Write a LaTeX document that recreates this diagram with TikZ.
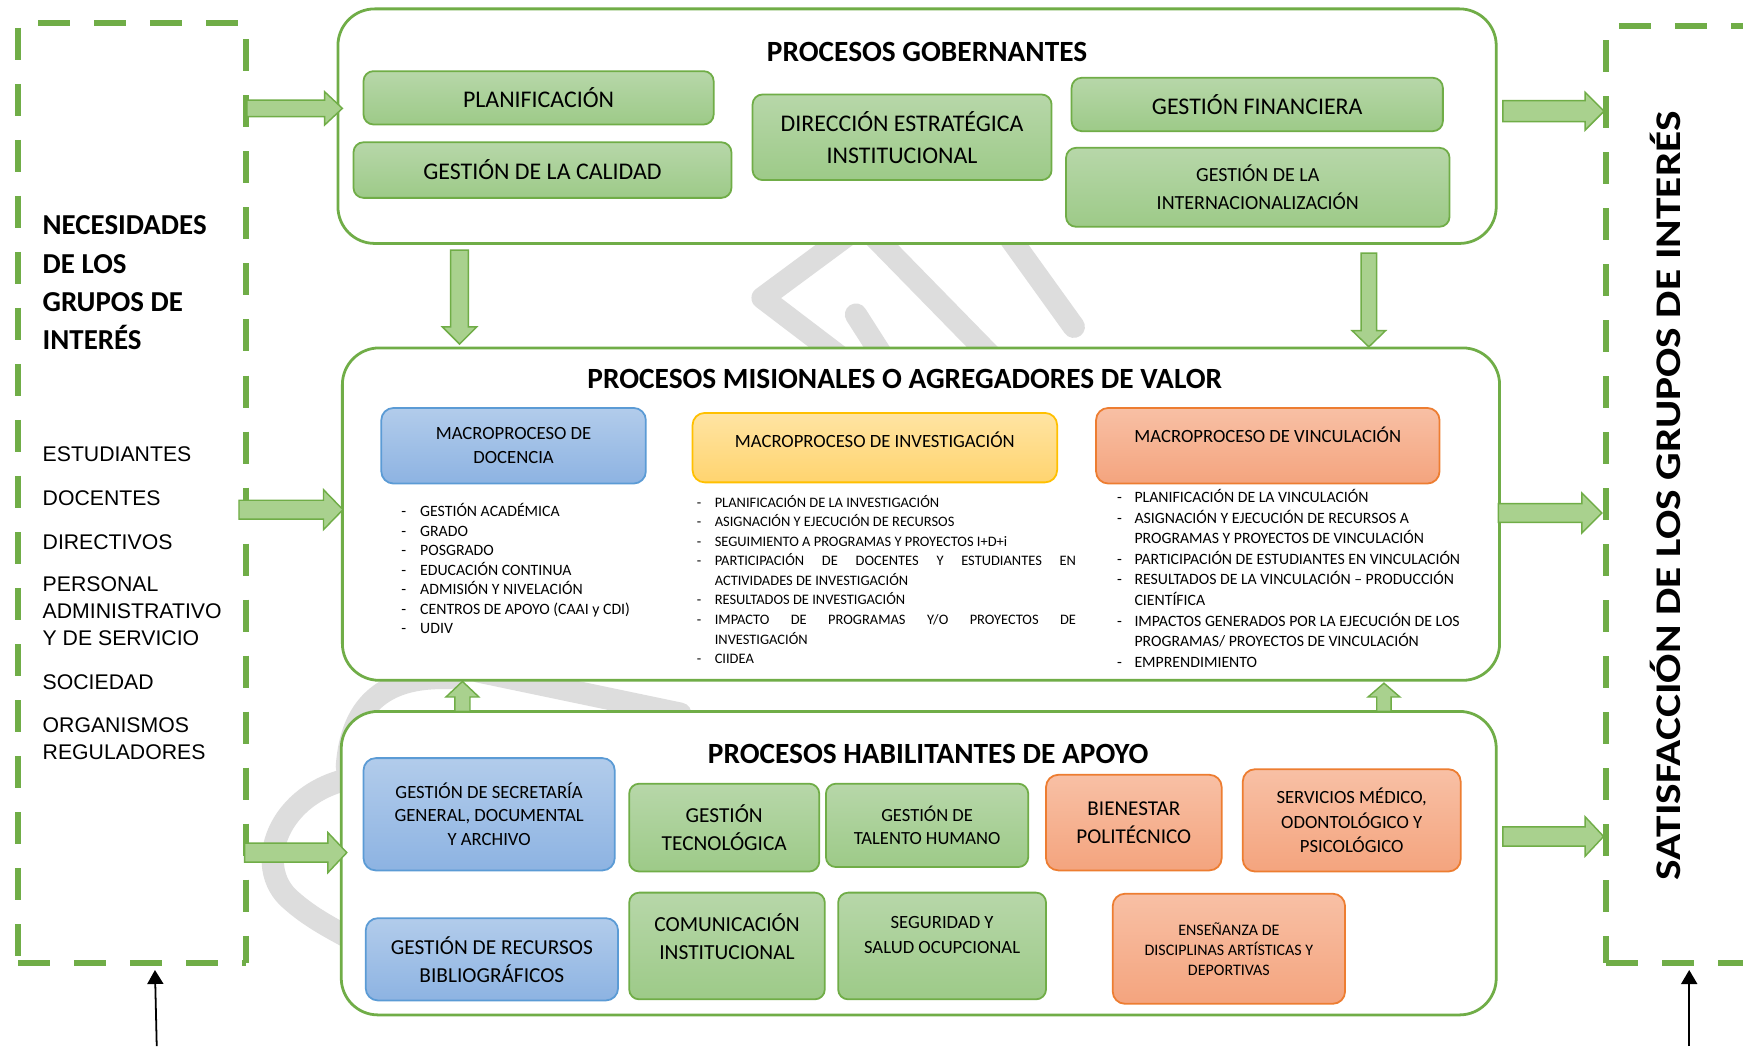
\documentclass[tikz,border=0pt]{standalone}
\usepackage{fontspec}
\usepackage{graphicx}
\setmainfont{Carlito}
\newfontfamily\arialf{Liberation Sans}
\usetikzlibrary{arrows.meta,calc}
\definecolor{gB}{HTML}{70AD47}
\definecolor{gTop}{HTML}{B7D7A9}
\definecolor{gBot}{HTML}{9DCA88}
\definecolor{bB}{HTML}{5B9BD5}
\definecolor{bTop}{HTML}{B2CCEB}
\definecolor{bBot}{HTML}{8DB3E2}
\definecolor{oB}{HTML}{ED7D31}
\definecolor{oTop}{HTML}{F8C0A5}
\definecolor{oBot}{HTML}{F4A47E}
\definecolor{yB}{HTML}{FFC000}
\definecolor{yTop}{HTML}{FFE4A3}
\definecolor{yBot}{HTML}{FFD46F}
\definecolor{aFill}{HTML}{A9D18E}
\definecolor{wmk}{HTML}{DDDDDD}
\newlength{\mydashw}
\newcommand{\setfs}[2]{\fontsize{#1}{#2}\selectfont}
\newcommand{\myitem}[1]{\makebox[\mydashw][l]{-}#1\par}
\newcommand{\mycont}[1]{\hspace*{\mydashw}#1\par}
% block arrow: tail, tip, dx, dy, shaft half width, head half width, head length
\newcommand{\blockarrow}[7]{%
\draw[blockarr] ($(#1)+({-1*(#4)*(#5)},{(#3)*(#5)})$)
 -- ($(#2)+({-1*(#3)*(#7)-(#4)*(#5)},{-1*(#4)*(#7)+(#3)*(#5)})$)
 -- ($(#2)+({-1*(#3)*(#7)-(#4)*(#6)},{-1*(#4)*(#7)+(#3)*(#6)})$)
 -- (#2)
 -- ($(#2)+({-1*(#3)*(#7)+(#4)*(#6)},{-1*(#4)*(#7)-(#3)*(#6)})$)
 -- ($(#2)+({-1*(#3)*(#7)+(#4)*(#5)},{-1*(#4)*(#7)-(#3)*(#5)})$)
 -- ($(#1)+({(#4)*(#5)},{-1*(#3)*(#5)})$) -- cycle;}
\begin{document}
\begin{tikzpicture}[x=1pt,y=-1pt,
  every node/.style={inner sep=0pt, outer sep=0pt},
  cont/.style={draw=gB, line width=2.5pt, rounded corners=33pt, fill=white},
  gbox/.style={draw=gB, line width=1.6pt, rounded corners=9pt, top color=gTop, bottom color=gBot, align=center},
  bbox/.style={draw=bB, line width=1.6pt, rounded corners=11pt, top color=bTop, bottom color=bBot, align=center},
  obox/.style={draw=oB, line width=1.6pt, rounded corners=11pt, top color=oTop, bottom color=oBot, align=center},
  ybox/.style={draw=yB, line width=1.6pt, rounded corners=11pt, top color=yTop, bottom color=yBot, align=center},
  dashline/.style={draw=gB, line width=5.5pt, dash pattern=on 28.8pt off 21.6pt},
  blockarr/.style={draw=gB, line width=1.3pt, fill=aFill, line join=miter},
  blackarr/.style={draw=black, line width=1.6pt, -{Triangle[width=14.4pt,length=12.6pt]}},
  titlef/.style={font=\bfseries\setfs{26.4}{30}},
  boxt/.style={align=center},
  wmark/.style={draw=wmk, line width=20pt, line cap=round, line join=round}
]
\useasboundingbox[fill=white] (0,0) rectangle (1568,941);

% ---------- watermark fragments (behind the containers) ----------
\draw[wmark] (778,200) -- (686,268) -- (778,338);
\draw[wmark] (772,198) -- (905,334);
\draw[wmark] (770,283) -- (800,330);
\draw[wmark] (897,198) -- (966,294);
\draw[wmark] (312,690) .. controls (316,630) and (350,608) .. (405,610);
\draw[wmark] (430,604) -- (612,642);
\draw[wmark] (318,700) .. controls (250,712) and (226,780) .. (262,810) .. controls (280,826) and (300,836) .. (322,848);

% ---------- left dashed region ----------
\node[minimum width=204.6pt, minimum height=845pt] (needs) at (118.7,443.5) {};
\draw[dashline] ($(needs.north west)+(17.8,0)$) -- (needs.north east);
\draw[dashline] ($(needs.north west)+(0,4)$) -- (needs.south west);
\draw[dashline] ($(needs.north east)+(0,14.4)$) -- (needs.south east);
\draw[dashline] (needs.south west) -- (needs.south east);

\node[anchor=base west] (needt) at (38.4,211.4)
  {\parbox[t]{200pt}{\bfseries\setfs{26}{34.2}NECESIDADES\\DE LOS\\GRUPOS DE\\INTERÉS}};
\node[anchor=base west] (g1) at (38.4,415.6) {\arialf\setfs{19.1}{24.3}ESTUDIANTES};
\node[anchor=base west] (g2) at (38.4,454.5) {\arialf\setfs{19.1}{24.3}DOCENTES};
\node[anchor=base west] (g3) at (38.4,494) {\arialf\setfs{19.1}{24.3}DIRECTIVOS};
\node[anchor=base west] (g4) at (38.4,532)
  {\parbox[t]{200pt}{\arialf\setfs{19.1}{24.3}PERSONAL\\ADMINISTRATIVO\\Y DE SERVICIO}};
\node[anchor=base west] (g5) at (38.4,620) {\arialf\setfs{19.1}{24.3}SOCIEDAD};
\node[anchor=base west] (g6) at (38.4,658.6)
  {\parbox[t]{200pt}{\arialf\setfs{19.1}{24.4}ORGANISMOS\\REGULADORES}};

% ---------- right dashed region ----------
\node[minimum width=155pt, minimum height=842.6pt] (satis) at (1522.5,444.7) {};
\draw[dashline] ($(satis.north west)+(11.4,0)$) -- (satis.north east);
\draw[dashline] ($(satis.north west)+(0,12.6)$) -- (satis.south west);
\draw[dashline] (satis.south west) -- (satis.south east);
\node[rotate=90, anchor=base] (satist) at (1512,446)
  {\scalebox{1.2}[1]{\bfseries\setfs{32.5}{36}SATISFACCIÓN DE LOS GRUPOS DE INTERÉS}};

% ---------- containers ----------
\node[cont, minimum width=1042pt, minimum height=211pt] (gob) at (825,113.5) {};
\node[cont, minimum width=1041pt, minimum height=299pt] (mis) at (828.5,462.5) {};
\node[cont, minimum width=1039pt, minimum height=273pt] (apo) at (826.5,776.5) {};

% ---------- procesos gobernantes ----------
\node[titlef] (gobt) at (834,47) {PROCESOS GOBERNANTES};
\node[gbox, minimum width=315pt, minimum height=48pt, font=\setfs{21.5}{29}] (plan) at (484.5,88) {PLANIFICACIÓN};
\node[gbox, minimum width=340pt, minimum height=50pt, font=\setfs{21.5}{29}] (cal) at (488,153) {GESTIÓN DE LA CALIDAD};
\node[gbox, minimum width=269pt, minimum height=77pt, font=\setfs{21.5}{29}] (dir) at (811.5,123.5) {DIRECCIÓN ESTRATÉGICA\\INSTITUCIONAL};
\node[gbox, minimum width=334pt, minimum height=48pt, font=\setfs{21.5}{29}] (fin) at (1131,94) {GESTIÓN FINANCIERA};
\node[gbox, minimum width=345pt, minimum height=71pt, font=\setfs{18}{25}] (int) at (1131.5,168.5) {GESTIÓN DE LA\\INTERNACIONALIZACIÓN};

% ---------- procesos misionales ----------
\node[titlef] (mist) at (814,341) {PROCESOS MISIONALES O AGREGADORES DE VALOR};
\node[bbox, minimum width=238pt, minimum height=68pt, font=\setfs{16.8}{22}] (doc) at (462,401) {MACROPROCESO DE\\DOCENCIA};
\node[ybox, minimum width=328pt, minimum height=62.5pt] (inv) at (787,402.7) {};
\node[boxt, font=\setfs{16.8}{22}] (invt) at (787,396) {MACROPROCESO DE INVESTIGACIÓN};
\node[obox, minimum width=309pt, minimum height=68pt] (vin) at (1140.5,401) {};
\node[boxt, font=\setfs{16.8}{22}] (vint) at (1140.5,391.5) {MACROPROCESO DE VINCULACIÓN};

\node[anchor=base west] (docl) at (361,464.8) {\parbox[t]{300pt}{\setfs{14.2}{17.55}\setlength{\mydashw}{17pt}%
\myitem{GESTIÓN ACADÉMICA}\myitem{GRADO}\myitem{POSGRADO}\myitem{EDUCACIÓN CONTINUA}%
\myitem{ADMISIÓN Y NIVELACIÓN}\myitem{CENTROS DE APOYO (CAAI y CDI)}\myitem{UDIV}}};

\node[anchor=base west] (invl) at (627,456.2) {\parbox[t]{400pt}{\setfs{13}{17.6}\setlength{\mydashw}{16pt}%
\myitem{PLANIFICACIÓN DE LA INVESTIGACIÓN}%
\myitem{ASIGNACIÓN Y EJECUCIÓN DE RECURSOS}%
\myitem{SEGUIMIENTO A PROGRAMAS Y PROYECTOS I+D+i}%
\myitem{\makebox[325pt][s]{PARTICIPACIÓN DE DOCENTES Y ESTUDIANTES EN}}%
\mycont{ACTIVIDADES DE INVESTIGACIÓN}%
\myitem{RESULTADOS DE INVESTIGACIÓN}%
\myitem{\makebox[325pt][s]{IMPACTO DE PROGRAMAS Y/O PROYECTOS DE}}%
\mycont{INVESTIGACIÓN}%
\myitem{CIIDEA}}};

\node[anchor=base west] (vinl) at (1005,452.2) {\parbox[t]{400pt}{\setfs{14.2}{18.5}\setlength{\mydashw}{15.6pt}%
\myitem{PLANIFICACIÓN DE LA VINCULACIÓN}%
\myitem{ASIGNACIÓN Y EJECUCIÓN DE RECURSOS A}%
\mycont{PROGRAMAS Y PROYECTOS DE VINCULACIÓN}%
\myitem{PARTICIPACIÓN DE ESTUDIANTES EN VINCULACIÓN}%
\myitem{RESULTADOS DE LA VINCULACIÓN – PRODUCCIÓN}%
\mycont{CIENTÍFICA}%
\myitem{IMPACTOS GENERADOS POR LA EJECUCIÓN DE LOS}%
\mycont{PROGRAMAS/ PROYECTOS DE VINCULACIÓN}%
\myitem{EMPRENDIMIENTO}}};

% ---------- procesos habilitantes ----------
\node[titlef] (apot) at (835,678) {PROCESOS HABILITANTES DE APOYO};
\node[bbox, minimum width=226pt, minimum height=101pt, font=\setfs{16.8}{21.5}] (sec) at (440,732.5) {GESTIÓN DE SECRETARÍA\\GENERAL, DOCUMENTAL\\Y ARCHIVO};
\node[gbox, minimum width=171pt, minimum height=79pt, font=\setfs{19.2}{25}] (tec) at (651.5,744.5) {GESTIÓN\\TECNOLÓGICA};
\node[gbox, minimum width=182pt, minimum height=75pt, font=\setfs{16.7}{21}] (tal) at (834,742.5) {GESTIÓN DE\\TALENTO HUMANO};
\node[obox, minimum width=158pt, minimum height=86pt, font=\setfs{19}{25}] (bie) at (1020,740) {BIENESTAR\\POLITÉCNICO};
\node[obox, minimum width=196pt, minimum height=92pt, font=\setfs{16.8}{22}] (ser) at (1216,738) {SERVICIOS MÉDICO,\\ODONTOLÓGICO Y\\PSICOLÓGICO};
\node[bbox, minimum width=227pt, minimum height=74pt, font=\setfs{19.2}{25}] (rec) at (442.5,863) {GESTIÓN DE RECURSOS\\BIBLIOGRÁFICOS};
\node[gbox, minimum width=176pt, minimum height=96pt] (com) at (654,851) {};
\node[boxt, font=\setfs{19.3}{25}] (comt) at (654,842.5) {COMUNICACIÓN\\INSTITUCIONAL};
\node[gbox, minimum width=187pt, minimum height=96pt] (seg) at (847.5,851) {};
\node[boxt, font=\setfs{16.8}{22}] (segt) at (847.5,841) {SEGURIDAD Y\\SALUD OCUPCIONAL};
\node[obox, minimum width=209pt, minimum height=99pt, font=\setfs{14.4}{18}] (ens) at (1105.5,853.5) {ENSEÑANZA DE\\DISCIPLINAS ARTÍSTICAS Y\\DEPORTIVAS};

% ---------- block arrows ----------
\coordinate (a1s) at (222,97.5);   \coordinate (a1e) at (308,97.5);
\coordinate (a2s) at (215,458.5);  \coordinate (a2e) at (308.5,458.5);
\coordinate (a3s) at (220,767);    \coordinate (a3e) at (312,767);
\coordinate (a4s) at (1352,100);   \coordinate (a4e) at (1443,100);
\coordinate (a5s) at (1348,461.5); \coordinate (a5e) at (1441,461.5);
\coordinate (a6s) at (1352,752.5); \coordinate (a6e) at (1442.6,752.5);
\coordinate (d1s) at (413.4,225);  \coordinate (d1e) at (413.4,309.5);
\coordinate (d2s) at (1231.4,227.7); \coordinate (d2e) at (1231.4,312);
\coordinate (u1s) at (416,640);    \coordinate (u1e) at (416,613);
\coordinate (u2s) at (1245,640);   \coordinate (u2e) at (1245,614.6);
\blockarrow{a1s}{a1e}{1}{0}{7.5}{15}{16}
\blockarrow{a2s}{a2e}{1}{0}{8.5}{18}{17.5}
\blockarrow{a3s}{a3e}{1}{0}{8.5}{18}{17}
\blockarrow{a4s}{a4e}{1}{0}{9.5}{17}{17}
\blockarrow{a5s}{a5e}{1}{0}{8.5}{18}{18}
\blockarrow{a6s}{a6e}{1}{0}{8.7}{17.7}{16.6}
\blockarrow{d1s}{d1e}{0}{1}{8}{15.5}{15.5}
\blockarrow{d2s}{d2e}{0}{1}{7}{15}{14.5}
\blockarrow{u1s}{u1e}{0}{-1}{6.8}{14.8}{14}
\blockarrow{u2s}{u2e}{0}{-1}{6.5}{14.3}{12.4}

% ---------- black arrows ----------
\coordinate (k1s) at (141,941);    \coordinate (k1e) at (139.4,872.6);
\coordinate (k2s) at (1519.6,941); \coordinate (k2e) at (1519.6,872.6);
\draw[blackarr] (k1s) -- (k1e);
\draw[blackarr] (k2s) -- (k2e);
\end{tikzpicture}
\end{document}
